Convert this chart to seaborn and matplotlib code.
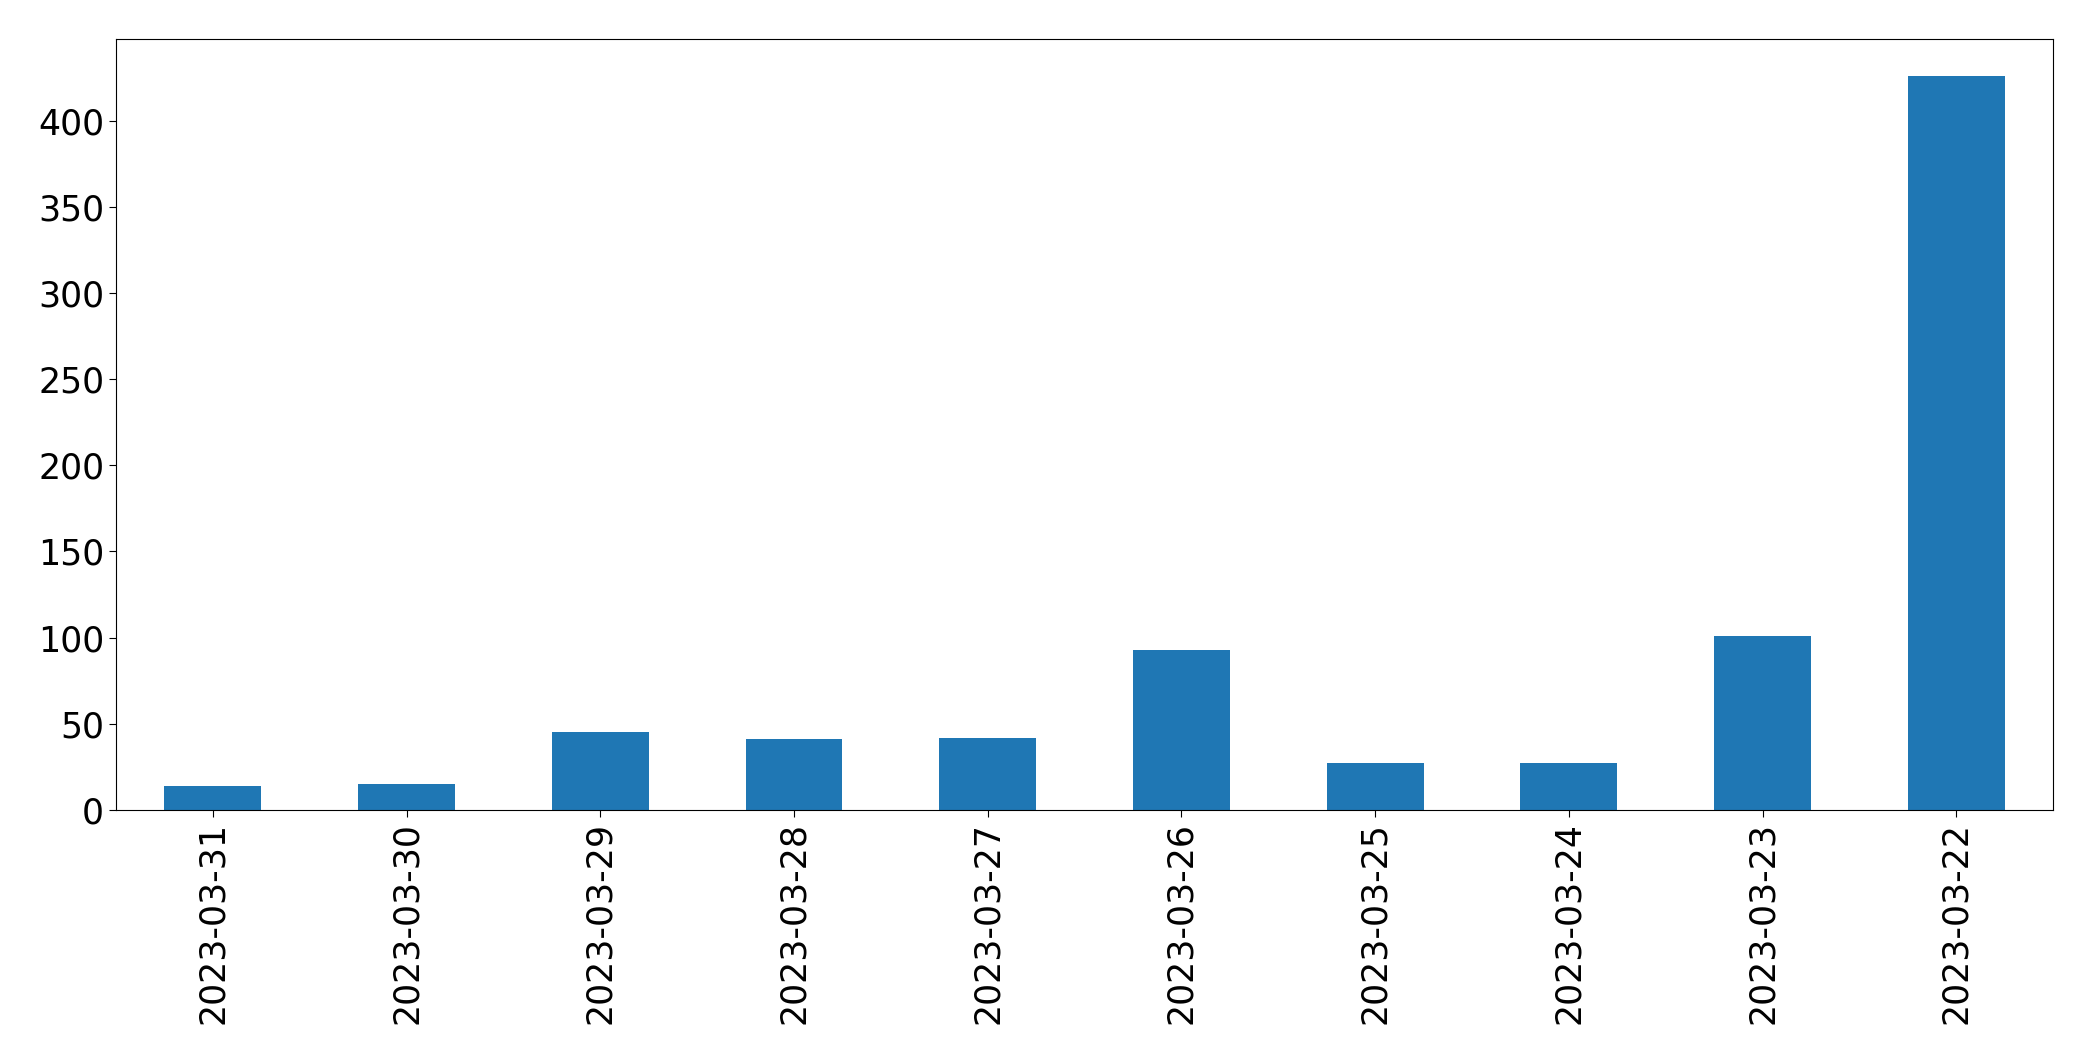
# Daily counts bar chart, recreated with seaborn
import matplotlib
matplotlib.use("Agg")
import matplotlib.pyplot as plt
import seaborn as sns
import pandas as pd

# data
dates = ["2023-03-31", "2023-03-30", "2023-03-29", "2023-03-28", "2023-03-27",
         "2023-03-26", "2023-03-25", "2023-03-24", "2023-03-23", "2023-03-22"]
counts = [14, 15, 45, 41, 42, 93, 27, 27, 101, 426]

df = pd.DataFrame({"date": dates, "count": counts})

fig, ax = plt.subplots(figsize=(20.93, 10.61), dpi=100)
fig.subplots_adjust(left=0.0554, right=0.981, top=0.9632, bottom=0.2366)

sns.barplot(
    data=df,
    x="date",
    y="count",
    order=dates,
    color="#1f77b4",
    saturation=1,
    width=0.5,
    errorbar=None,
    linewidth=0,
    ax=ax,
)

ax.set_xlim(-0.5, len(dates) - 0.5)
ax.set_ylim(0, max(counts) * 1.05)
ax.set_xlabel("")
ax.set_ylabel("")
ax.tick_params(axis="both", labelsize=25, length=5)
for side in ax.spines.values():
    side.set_color("black")
plt.setp(ax.get_xticklabels(), rotation=90)

fig.savefig("out.png", dpi=100)
